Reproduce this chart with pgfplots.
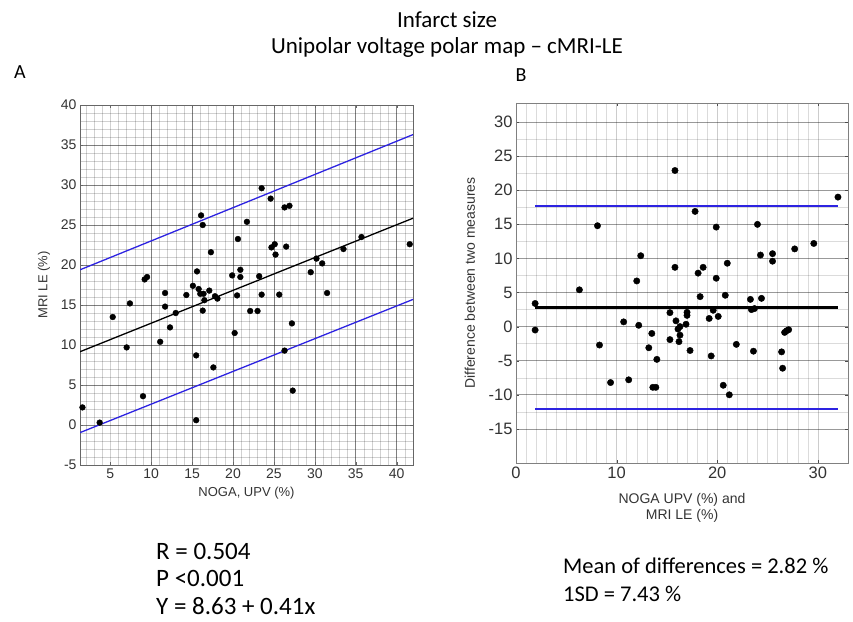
\documentclass[border=0pt]{standalone}
\usepackage{pgfplots}
\pgfplotsset{compat=1.18}
\usepackage{fontspec}
\setmainfont{Carlito}
\newfontfamily\arial{Liberation Sans}
\definecolor{ablue}{RGB}{45,35,225}
\begin{document}
\begin{tikzpicture}
\path[use as bounding box] (0pt,0pt) rectangle (853pt,-621pt);
% titles
\node[align=center, inner sep=0, font=\fontsize{23}{26}\selectfont] at (447pt,-35pt) {Infarct size\\Unipolar voltage polar map -- cMRI-LE};
\node[inner sep=0, font=\fontsize{20}{20}\selectfont] at (20pt,-72pt) {A};
\node[inner sep=0, font=\fontsize{20}{20}\selectfont] at (521pt,-75pt) {B};
% bottom texts
\node[anchor=west, inner sep=0, font=\fontsize{25}{25}\selectfont] at (156pt,-551pt) {R = 0.504};
\node[anchor=west, inner sep=0, font=\fontsize{25}{25}\selectfont] at (156pt,-578pt) {P <0.001};
\node[anchor=west, inner sep=0, font=\fontsize{25}{25}\selectfont] at (156pt,-606pt) {Y = 8.63 + 0.41x};
\node[anchor=west, inner sep=0, font=\fontsize{22.5}{22.5}\selectfont] at (563pt,-566pt) {Mean of differences = 2.82 \%};
\node[anchor=west, inner sep=0, font=\fontsize{22.5}{22.5}\selectfont] at (563pt,-594pt) {1SD = 7.43 \%};

% ---------------- Panel A ----------------
\begin{scope}[shift={(80pt,-465pt)}]
\begin{axis}[
  at={(0pt,0pt)}, anchor=south west,
  width=333pt, height=360pt, scale only axis,
  xmin=1.3, xmax=42, ymin=-5, ymax=40,
  xtick={10,15,...,40}, ytick={-5,0,...,40},
  extra x ticks={5}, extra x tick style={grid=none},
  minor xtick={2,3,4,5,6,7,8,9,11,12,13,14,16,17,18,19,21,22,23,24,26,27,28,29,31,32,33,34,36,37,38,39,41,42},
  minor ytick={-4,-3,-2,-1,1,2,3,4,6,7,8,9,11,12,13,14,16,17,18,19,21,22,23,24,26,27,28,29,31,32,33,34,36,37,38,39},
  grid=both,
  major grid style={draw=black, draw opacity=0.5, line width=0.6pt},
  minor grid style={draw=black, draw opacity=0.18, line width=0.4pt},
  axis line style={draw=black!60, line width=0.9pt},
  tick align=inside, major tick length=3pt, minor tick length=0pt,
  tick style={draw=black!60},
  /pgf/number format/assume math mode=true,
  tick label style={font=\arial\fontsize{14}{14}\selectfont, text=black!80},
  xlabel={NOGA, UPV (\%)}, ylabel={MRI LE (\%)},
  label style={font=\arial\fontsize{13}{13}\selectfont, text=black!80},
  xlabel style={at={(axis description cs:0.5,-0.078)}, anchor=center},
  ylabel style={at={(axis description cs:-0.108,0.5)}, anchor=center},
]
\addplot[black, line width=1.3pt] coordinates {(1.3,9.16) (42,25.85)};
\addplot[ablue, line width=1.3pt] coordinates {(1.3,19.4) (42,36.3)};
\addplot[ablue, line width=1.3pt] coordinates {(1.3,-0.95) (42,15.7)};
\addplot[only marks, mark=*, mark size=2.9pt, black] coordinates {
(1.6,2.2) (3.7,0.3) (5.3,13.5) (7.0,9.7) (7.4,15.2) (9.0,3.6) (9.2,18.2) (9.5,18.5)
(11.1,10.4) (11.7,16.5) (11.7,14.8) (12.3,12.2) (13.0,14.0) (14.3,16.25) (15.1,17.4)
(15.5,8.7) (15.5,0.6) (15.6,19.2) (15.8,17.0) (16.0,16.4) (16.4,16.4) (16.5,15.6)
(16.3,14.3) (16.1,26.2) (16.3,25.0) (17.1,16.8) (17.3,21.6) (17.6,7.2) (17.8,16.1)
(18.1,15.8) (19.9,18.7) (20.2,11.5) (20.5,16.2) (20.6,23.25) (20.9,19.4) (20.9,18.5)
(21.7,25.4) (22.1,14.25) (23.0,14.25) (23.2,18.6) (23.5,16.3) (23.5,29.6) (24.6,28.3)
(24.7,22.2) (25.1,22.6) (25.2,21.3) (25.65,16.3) (26.3,27.2) (26.9,27.4) (26.5,22.3)
(26.3,9.3) (27.2,12.7) (27.3,4.3) (29.5,19.1) (30.2,20.8) (30.9,20.2) (31.5,16.5)
(33.5,22.0) (35.7,23.5) (41.6,22.6)
};
\end{axis}
\end{scope}

% ---------------- Panel B ----------------
\begin{scope}[shift={(516pt,-463pt)}]
\begin{axis}[
  at={(0pt,0pt)}, anchor=south west,
  width=332pt, height=360pt, scale only axis,
  xmin=0, xmax=33, ymin=-20, ymax=32.8,
  xtick={0,10,20,30}, ytick={-15,-10,...,30},
  minor x tick num=9, minor y tick num=1,
  grid=both,
  major x grid style={draw=black, draw opacity=0.2, line width=0.5pt},
  minor x grid style={draw=black, draw opacity=0.14, line width=0.4pt},
  major y grid style={draw=black, draw opacity=0.4, line width=0.7pt},
  minor y grid style={draw=black, draw opacity=0.14, line width=0.4pt},
  axis line style={draw=black!50, line width=0.9pt},
  tick align=inside, major tick length=3pt, minor tick length=0pt,
  tick style={draw=black!70},
  /pgf/number format/assume math mode=true,
  tick label style={font=\arial\fontsize{16.5}{16.5}\selectfont, text=black!80},
  xlabel={NOGA UPV (\%) and\\MRI LE (\%)}, ylabel={Difference between two measures},
  label style={font=\arial\fontsize{14}{16}\selectfont, text=black!80},
  xlabel style={at={(axis description cs:0.5,-0.125)}, anchor=center, align=center},
  ylabel style={at={(axis description cs:-0.139,0.5)}, anchor=center},
]
\addplot[black, line width=2.4pt] coordinates {(1.9,2.82) (32.0,2.82)};
\addplot[ablue, line width=2.0pt] coordinates {(1.9,17.7) (32.0,17.7)};
\addplot[ablue, line width=2.0pt] coordinates {(1.9,-12.05) (32.0,-12.05)};
\addplot[only marks, mark=*, mark size=3.2pt, black] coordinates {
(1.9,3.4) (1.9,-0.5) (6.3,5.4) (8.1,14.8) (8.3,-2.7) (9.4,-8.2) (10.7,0.7) (11.2,-7.8)
(12.0,6.7) (12.2,0.2) (12.4,10.4) (13.2,-3.1) (13.5,-1.0) (13.6,-8.9) (13.9,-8.9)
(14.0,-4.8) (15.3,2.05) (15.3,-1.9) (15.8,22.9) (15.8,8.7) (15.9,0.85) (16.1,-0.35)
(16.3,0) (16.3,-1.25) (16.2,-2.2) (16.9,0.35) (17.0,2.1) (17.0,1.65) (17.3,-3.5)
(17.8,16.9) (18.1,7.85) (18.6,8.7) (18.3,4.4) (19.2,1.2) (19.4,-4.3) (19.6,2.4)
(19.9,14.6) (19.9,7.1) (20.1,1.5) (20.6,-8.6) (20.8,4.6) (21.0,9.3) (21.2,-10.0)
(21.9,-2.6) (23.3,4.0) (23.4,2.5) (23.7,2.65) (23.6,-3.6) (24.0,15.0) (24.3,10.5)
(24.4,4.15) (25.5,10.7) (25.5,9.6) (26.4,-3.7) (26.5,-6.1) (26.7,-0.85) (26.9,-0.6)
(27.1,-0.45) (27.7,11.4) (29.6,12.2) (32.0,19.0)
};
\end{axis}
\end{scope}
\end{tikzpicture}
\end{document}
